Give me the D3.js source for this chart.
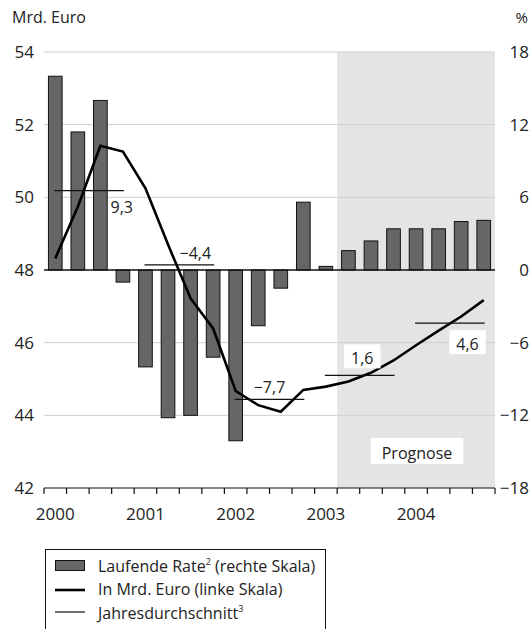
<!DOCTYPE html>
<html><head><meta charset="utf-8">
<script src="https://cdn.jsdelivr.net/npm/d3@7"></script>
<style>
html,body{margin:0;padding:0;background:#fff;}
svg{display:block;font-family:"Open Sans",sans-serif;}
</style></head>
<body>
<svg id="chart" width="531" height="629"></svg>
<script>
// ---- data ----
const quarters = ["2000Q1","2000Q2","2000Q3","2000Q4","2001Q1","2001Q2","2001Q3","2001Q4",
  "2002Q1","2002Q2","2002Q3","2002Q4","2003Q1","2003Q2","2003Q3","2003Q4",
  "2004Q1","2004Q2","2004Q3","2004Q4"];
const rateValues = [16.0, 11.4, 14.0, -1.0, -8.0, -12.2, -12.0, -7.2, -14.1, -4.6, -1.5, 5.6,
  0.3, 1.6, 2.4, 3.4, 3.4, 3.4, 4.0, 4.1];
const euroValues = [48.32, 49.74, 51.42, 51.26, 50.25, 48.70, 47.22, 46.39, 44.67, 44.28, 44.10, 44.70,
  44.79, 44.93, 45.17, 45.51, 45.93, 46.33, 46.72, 47.17];
const years = ["2000","2001","2002","2003","2004"];
const avgLabels = ["9,3","\u22124,4","\u22127,7","1,6","4,6"];
const leftTicks = [42,44,46,48,50,52,54];
const rightTicks = [-18,-12,-6,0,6,12,18];
const forecastStart = "2003Q2";

// ---- layout ----
const L = 44, R = 495, T = 52, B = 488;
const svg = d3.select("#chart");
const x = d3.scaleBand().domain(quarters).range([L, R]).paddingInner(0.35).paddingOuter(0.175);
const step = x.step();
const xq = d3.scaleLinear().domain([0, quarters.length]).range([L, R]);
const yL = d3.scaleLinear().domain([42, 54]).range([B, T]);
const yR = d3.scaleLinear().domain([-18, 18]).range([B, T]);
const cx = q => x(q) + x.bandwidth() / 2;

// forecast shading
const fsX = xq(quarters.indexOf(forecastStart));
svg.append("rect").attr("x", fsX).attr("y", T).attr("width", R - fsX).attr("height", B - T)
  .attr("fill", "#e4e4e4");

// gridlines
svg.append("g").selectAll("line").data(leftTicks.filter(d => d !== 42 && d !== 48)).join("line")
  .attr("x1", L).attr("x2", R).attr("y1", d => yL(d)).attr("y2", d => yL(d))
  .attr("stroke", "#cfcfcf").attr("stroke-width", 1);

// left tick labels
svg.append("g").selectAll("text").data(leftTicks).join("text")
  .attr("x", 34).attr("y", d => yL(d)).attr("dy", "0.36em").attr("text-anchor", "end")
  .attr("font-size", 17).attr("fill", "#222").text(d => d);
// right tick labels
svg.append("g").selectAll("text").data(rightTicks).join("text")
  .attr("x", 529).attr("y", d => yR(d)).attr("dy", "0.36em").attr("text-anchor", "end")
  .attr("font-size", 17).attr("fill", "#222").text(d => d < 0 ? "\u2212" + Math.abs(d) : d);

svg.append("text").attr("x", 12).attr("y", 23).attr("font-size", 16).attr("fill", "#222").text("Mrd. Euro");
svg.append("text").attr("x", 528).attr("y", 23).attr("text-anchor", "end").attr("font-size", 15).attr("fill", "#222").text("%");

// bars
svg.append("g").selectAll("rect").data(quarters).join("rect")
  .attr("x", d => x(d) + 0.5)
  .attr("width", x.bandwidth() - 1)
  .attr("y", (d, i) => yR(Math.max(0, rateValues[i])))
  .attr("height", (d, i) => Math.abs(yR(rateValues[i]) - yR(0)))
  .attr("fill", "#666").attr("stroke", "#111").attr("stroke-width", 1);

// zero line
svg.append("line").attr("x1", L).attr("x2", R).attr("y1", yR(0)).attr("y2", yR(0))
  .attr("stroke", "#111").attr("stroke-width", 1.5);

// bottom axis
const xAxisG = svg.append("g").attr("transform", `translate(0,${B})`);
xAxisG.append("line").attr("x1", L).attr("x2", R).attr("stroke", "#111").attr("stroke-width", 1.2);
xAxisG.selectAll("line.tk").data(d3.range(quarters.length + 1)).join("line").attr("class", "tk")
  .attr("x1", d => xq(d)).attr("x2", d => xq(d)).attr("y1", 0).attr("y2", 6)
  .attr("stroke", "#111").attr("stroke-width", 1.2);
xAxisG.selectAll("text").data(years).join("text")
  .attr("x", (d, i) => xq(i * 4) + step / 2).attr("y", 32).attr("text-anchor", "middle")
  .attr("font-size", 17).attr("fill", "#222").text(d => d);

// euro line
const line = d3.line().x((d, i) => cx(quarters[i])).y(d => yL(d));
svg.append("path").datum(euroValues).attr("d", line).attr("fill", "none")
  .attr("stroke", "#000").attr("stroke-width", 2.6).attr("stroke-linejoin", "miter");

// annual averages
const labelLayout = [
  {dy: 22, box: false, off: 9},
  {dy: -6, box: false, off: -3},
  {dy: -6, box: false, off: -19},
  {dy: -11, box: true, off: -21},
  {dy: 27, box: true, off: -6}
];
years.forEach((yr, k) => {
  const qs = quarters.slice(k * 4, k * 4 + 4);
  const avg = d3.mean(euroValues.slice(k * 4, k * 4 + 4));
  const x1 = cx(qs[0]) - 1, x2 = cx(qs[3]) + 1;
  const yy = yL(avg);
  svg.append("line").attr("x1", x1).attr("x2", x2).attr("y1", yy).attr("y2", yy)
    .attr("stroke", "#111").attr("stroke-width", 1.2);
  const lay = labelLayout[k];
  const tx = x2 + lay.off, ty = yy + lay.dy;
  const g = svg.append("g");
  const t = g.append("text").attr("x", tx).attr("y", ty).attr("text-anchor", "end")
    .attr("font-size", 16).attr("fill", "#222").text(avgLabels[k]);
  if (lay.box) {
    const bb = t.node().getBBox();
    g.insert("rect", "text").attr("x", bb.x - 7).attr("y", ty - 20).attr("width", bb.width + 14)
      .attr("height", 24).attr("fill", "#fff");
  }
});

// Prognose label
const pg = svg.append("g");
const pt = pg.append("text").attr("x", 417).attr("y", 459).attr("text-anchor", "middle")
  .attr("font-size", 16).attr("fill", "#222").text("Prognose");
const pbb = pt.node().getBBox();
pg.insert("rect", "text").attr("x", pbb.x - 11).attr("y", 438).attr("width", pbb.width + 22)
  .attr("height", 26).attr("fill", "#fff");

// legend
const lg = svg.append("g");
lg.append("rect").attr("x", 45.5).attr("y", 549.5).attr("width", 280).attr("height", 100)
  .attr("fill", "#fff").attr("stroke", "#111").attr("stroke-width", 1);
lg.append("rect").attr("x", 55.5).attr("y", 560.5).attr("width", 29).attr("height", 10)
  .attr("fill", "#666").attr("stroke", "#111").attr("stroke-width", 1);
lg.append("line").attr("x1", 55).attr("x2", 85).attr("y1", 590).attr("y2", 590)
  .attr("stroke", "#000").attr("stroke-width", 2.6);
lg.append("line").attr("x1", 55).attr("x2", 85).attr("y1", 612).attr("y2", 612)
  .attr("stroke", "#111").attr("stroke-width", 1.2);
const legendItems = [
  {t: "Laufende Rate", sup: "2", rest: " (rechte Skala)", y: 572},
  {t: "In Mrd. Euro (linke Skala)", sup: null, rest: "", y: 595},
  {t: "Jahresdurchschnitt", sup: "3", rest: "", y: 619}
];
legendItems.forEach(it => {
  const tx = lg.append("text").attr("x", 98).attr("y", it.y).attr("font-size", 16).attr("fill", "#222");
  tx.append("tspan").text(it.t);
  if (it.sup) {
    tx.append("tspan").attr("font-size", 9).attr("dy", -7).text(it.sup);
    if (it.rest) tx.append("tspan").attr("dy", 7).text(it.rest);
  }
});
</script>
</body></html>
